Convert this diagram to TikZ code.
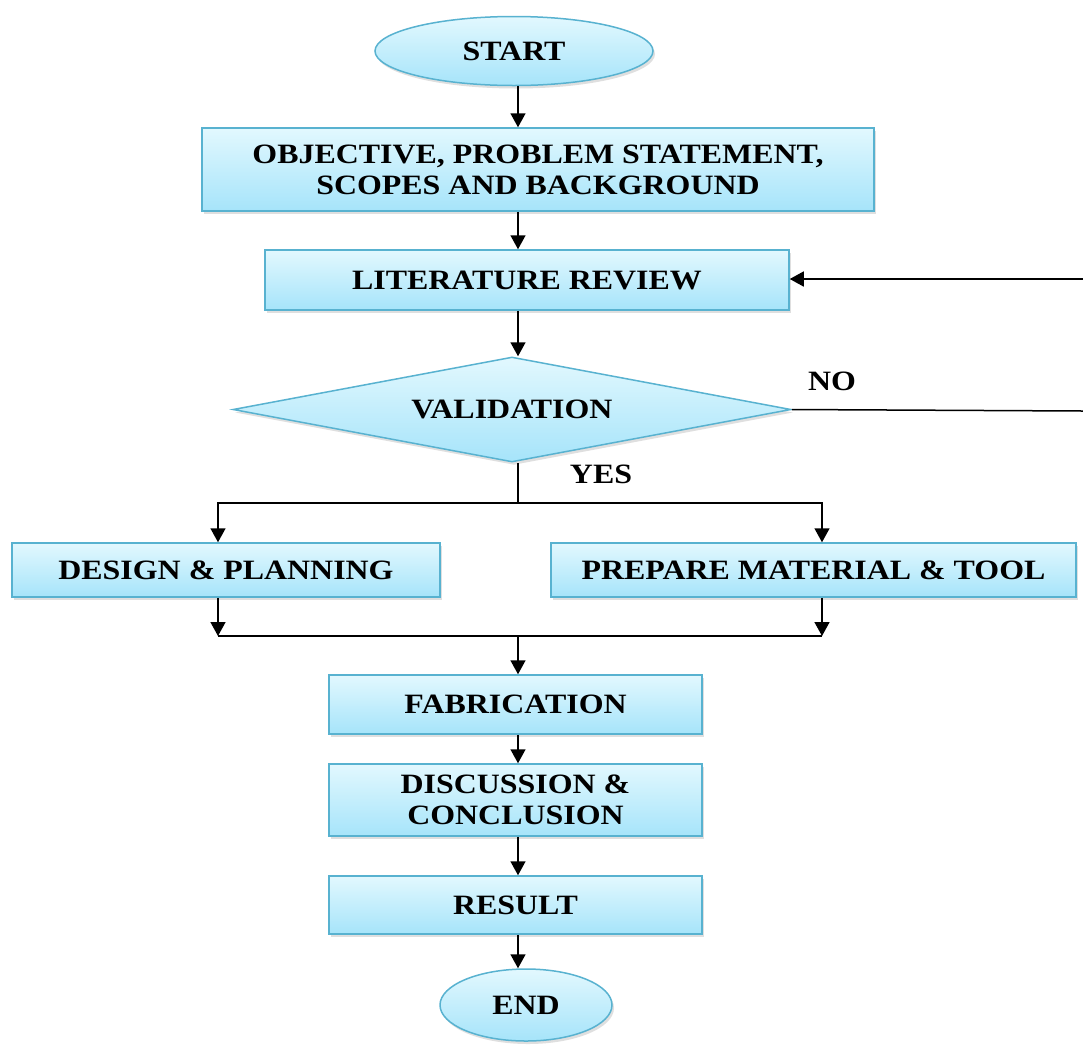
\documentclass[tikz,border=0pt]{standalone}
\usepackage{fontspec}
\setmainfont[FakeStretch=1.14]{Liberation Serif}
\usetikzlibrary{shapes.geometric,arrows.meta,shadows}
\definecolor{bordc}{RGB}{88,178,208}
\definecolor{topc}{RGB}{226,248,254}
\definecolor{botc}{RGB}{166,228,250}
\begin{document}
\begin{tikzpicture}[x=1pt,y=-1pt,
  base/.style={draw=bordc, line width=1.5pt, top color=topc, bottom color=botc,
    drop shadow={shadow xshift=2pt, shadow yshift=-3pt, opacity=0.25},
    inner sep=0pt, align=center, font=\bfseries\fontsize{28}{31}\selectfont},
  boxn/.style={base, rectangle},
  ovaln/.style={base, ellipse},
  diam/.style={base, diamond, aspect=5.3},
  lbl/.style={font=\bfseries\fontsize{28}{31}\selectfont, inner sep=0pt},
  conn/.style={line width=1.5pt, draw=black},
  arr/.style={conn, -{Triangle[length=14pt,width=15pt]}}]
\useasboundingbox (0,0) rectangle (1083,1045);
\fill[white] (0,0) rectangle (1083,1045);
\coordinate (m) at (518,0);
\coordinate (l) at (218,0);
\coordinate (r) at (822,0);

\node[ovaln, minimum width=278, minimum height=69] (start) at (514,51) {START};
\node[boxn, minimum width=672, minimum height=83] (obj) at (538,169.5) {OBJECTIVE, PROBLEM STATEMENT,\\SCOPES AND BACKGROUND};
\node[boxn, minimum width=524, minimum height=60] (lit) at (527,280) {LITERATURE REVIEW};
\node[diam, minimum width=558, minimum height=105] (val) at (512,409.5) {VALIDATION};
\node[boxn, minimum width=428, minimum height=54] (dp) at (226,570) {DESIGN \& PLANNING};
\node[boxn, minimum width=525, minimum height=54] (pm) at (813.5,570) {PREPARE MATERIAL \& TOOL};
\node[boxn, minimum width=373, minimum height=59] (fab) at (515.5,704.5) {FABRICATION};
\node[boxn, minimum width=373, minimum height=72] (dis) at (515.5,800) {DISCUSSION \&\\CONCLUSION};
\node[boxn, minimum width=373, minimum height=58] (res) at (515.5,905) {RESULT};
\node[ovaln, minimum width=172, minimum height=72] (end) at (526,1005) {END};

\node[lbl] (no) at (832,381) {NO};
\node[lbl] (yes) at (601,474) {YES};

\coordinate (litR) at (1083,279);
\coordinate (valR) at (1083,411);
\coordinate (split) at (518,503);
\coordinate (join) at (518,636);

\draw[arr] (start.south -| m) -- (obj.north -| m);
\draw[arr] (obj.south -| m) -- (lit.north -| m);
\draw[arr] (lit.south -| m) -- (val.north -| m);
\draw[arr] (litR) -- (lit.east |- litR);
\draw[conn] (val.east) -- (valR);
\draw[conn] (val.south -| m) -- (split);
\draw[arr] (split) -| (dp.north -| l);
\draw[arr] (split) -| (pm.north -| r);
\draw[arr] (dp.south -| l) -- (join -| l);
\draw[arr] (pm.south -| r) -- (join -| r);
\draw[conn] (join -| l) -- (join -| r);
\draw[arr] (join) -- (fab.north -| m);
\draw[arr] (fab.south -| m) -- (dis.north -| m);
\draw[arr] (dis.south -| m) -- (res.north -| m);
\draw[arr] (res.south -| m) -- (end.north -| m);
\end{tikzpicture}
\end{document}
